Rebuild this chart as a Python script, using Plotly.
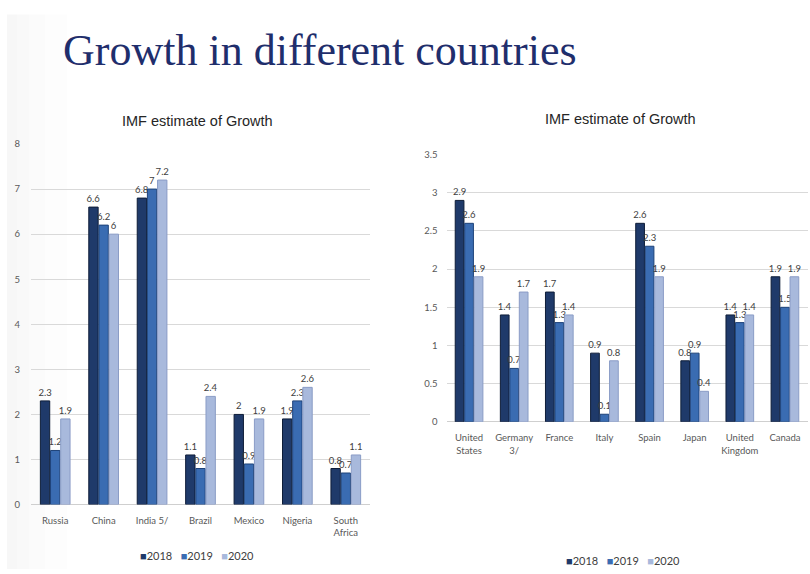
import plotly.graph_objects as go

# ---- data -------------------------------------------------------------
years = ["2018", "2019", "2020"]

emerging = ["Russia", "China", "India 5/", "Brazil", "Mexico", "Nigeria", "South<br>Africa"]
emerging_2018 = [2.3, 6.6, 6.8, 1.1, 2.0, 1.9, 0.8]
emerging_2019 = [1.2, 6.2, 7.0, 0.8, 0.9, 2.3, 0.7]
emerging_2020 = [1.9, 6.0, 7.2, 2.4, 1.9, 2.6, 1.1]

advanced = ["United<br>States", "Germany<br>3/", "France", "Italy", "Spain", "Japan",
            "United<br>Kingdom", "Canada"]
advanced_2018 = [2.9, 1.4, 1.7, 0.9, 2.6, 0.8, 1.4, 1.9]
advanced_2019 = [2.6, 0.7, 1.3, 0.1, 2.3, 0.9, 1.3, 1.5]
advanced_2020 = [1.9, 1.7, 1.4, 0.8, 1.9, 0.4, 1.4, 1.9]

left_ticks = [0, 1, 2, 3, 4, 5, 6, 7, 8]
right_ticks = [0, 0.5, 1, 1.5, 2, 2.5, 3, 3.5]

# ---- styling ----------------------------------------------------------
W, H = 810, 574
fills = ["#1f3a6a", "#3a6cb2", "#a8b9dc"]
edges = ["#0e1d38", "#1d4279", "#8a9cc6"]
label_font = dict(family="Lato, Arial, sans-serif", size=9.5, color="#404040")
axis_font = dict(family="Lato, Arial, sans-serif", size=9.5, color="#595959")


def px(x):
    return x / W


def py(y):
    return 1 - y / H


fig = go.Figure()

for i, (yr, vals) in enumerate(zip(years, [emerging_2018, emerging_2019, emerging_2020])):
    fig.add_trace(go.Bar(
        x=emerging, y=vals, name=yr, xaxis="x", yaxis="y",
        marker=dict(color=fills[i], line=dict(color=edges[i], width=1)),
        text=[f"{v:g}" for v in vals], textposition="outside",
        textfont=label_font, constraintext="none", cliponaxis=False,
        showlegend=False,
    ))

for i, (yr, vals) in enumerate(zip(years, [advanced_2018, advanced_2019, advanced_2020])):
    fig.add_trace(go.Bar(
        x=advanced, y=vals, name=yr, xaxis="x2", yaxis="y2",
        marker=dict(color=fills[i], line=dict(color=edges[i], width=1)),
        text=[f"{v:g}" for v in vals], textposition="outside",
        textfont=label_font, constraintext="none", cliponaxis=False,
        showlegend=False,
    ))

yaxis_common = dict(showgrid=True, gridcolor="#d9d9d9", gridwidth=1,
                    zeroline=True, zerolinecolor="#cfcfcf", zerolinewidth=1,
                    showline=False, ticks="", tickfont=axis_font, fixedrange=True)
xaxis_common = dict(showgrid=False, showline=False, ticks="", tickfont=axis_font,
                    fixedrange=True, tickangle=0, ticklabelstandoff=9)

fig.update_layout(
    width=W, height=H,
    margin=dict(l=0, r=0, t=0, b=0),
    paper_bgcolor="white", plot_bgcolor="rgba(0,0,0,0)",
    barmode="group", bargap=0.37, bargroupgap=0.08,
    xaxis=dict(domain=[px(31), px(370)], anchor="y", **xaxis_common),
    yaxis=dict(domain=[py(508.3), py(140.7)], range=[0, 8], anchor="x",
               tickvals=left_ticks, ticklabelstandoff=10, **yaxis_common),
    xaxis2=dict(domain=[px(446.5), px(807.5)], anchor="y2", **xaxis_common),
    yaxis2=dict(domain=[py(424), py(151.5)], range=[0, 3.5], anchor="x2",
                tickvals=right_ticks, ticklabelstandoff=8, **yaxis_common),
    showlegend=False,
)

# faint grey shading along the left edge of the slide
shapes = []
for w in [10, 22, 38, 60]:
    shapes.append(dict(type="rect", xref="paper", yref="paper", layer="below",
                       x0=px(7), x1=px(7 + w), y0=0, y1=py(9),
                       fillcolor="rgba(120,120,120,0.014)", line=dict(width=0)))
fig.update_layout(shapes=shapes)

annotations = [
    dict(text="Growth in different countries", x=px(61), y=py(45), xref="paper", yref="paper",
         xanchor="left", yanchor="middle", showarrow=False,
         font=dict(family="Liberation Serif, Times New Roman, serif", size=44, color="#1f2e6c")),
    dict(text="IMF estimate of Growth", x=px(197), y=py(117), xref="paper", yref="paper",
         xanchor="center", yanchor="middle", showarrow=False,
         font=dict(family="Liberation Sans, Arial, sans-serif", size=14.5, color="#262626")),
    dict(text="IMF estimate of Growth", x=px(620), y=py(115), xref="paper", yref="paper",
         xanchor="center", yanchor="middle", showarrow=False,
         font=dict(family="Liberation Sans, Arial, sans-serif", size=14.5, color="#262626")),
]

# legend rows built as text: coloured square + year
legend_text = "   ".join(
    f"<span style='color:{fills[i]}'>■</span>{yr}" for i, yr in enumerate(years)
)
for cx, cy in [(197, 560), (623, 565)]:
    annotations.append(dict(text=legend_text, x=px(cx), y=py(cy), xref="paper", yref="paper",
                            xanchor="center", yanchor="middle", showarrow=False,
                            font=dict(family="Lato, Arial, sans-serif", size=11, color="#404040")))

fig.update_layout(annotations=annotations)

fig.write_html("out.html")
